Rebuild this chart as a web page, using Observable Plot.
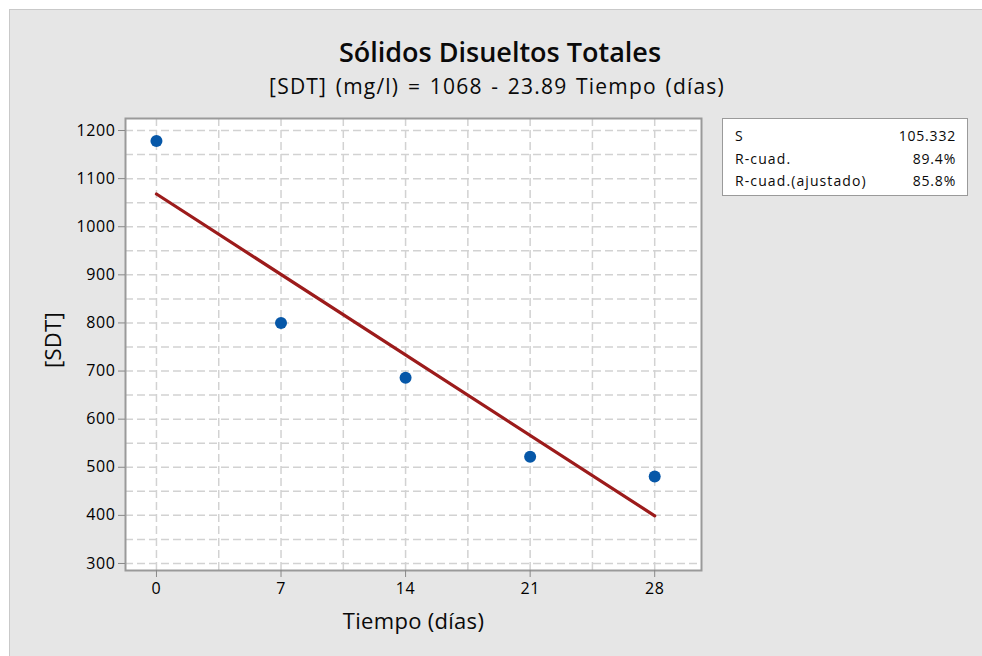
<!DOCTYPE html>
<html><head><meta charset="utf-8">
<script src="https://cdn.jsdelivr.net/npm/d3@7"></script>
<script src="https://cdn.jsdelivr.net/npm/@observablehq/plot@0.6"></script>
<style>
body{margin:0;background:#fff;font-family:"Open Sans","Noto Sans",sans-serif;}
#wrap{position:relative;width:982px;height:656px;overflow:hidden;}
#panel{position:absolute;left:9px;top:9px;width:973px;height:647px;background:#e6e6e6;border-left:1px solid #c9c9c9;border-top:1px solid #c9c9c9;}
.t{position:absolute;white-space:nowrap;line-height:1;color:#0a0a0a;}
#title{left:0;width:1000px;top:38px;text-align:center;font-size:27px;font-weight:600;}
#subtitle{left:0;width:994px;top:76px;text-align:center;font-size:21px;letter-spacing:1.2px;word-spacing:2px;}
#xlab{left:0;width:827px;top:609px;text-align:center;font-size:22px;letter-spacing:0.3px;}
#ylab{left:52px;top:340px;font-size:22px;letter-spacing:0.3px;transform:translate(-50%,-50%) rotate(-90deg);transform-origin:center;}
#plot{position:absolute;left:0;top:100px;}
#legend{position:absolute;left:722px;top:118px;width:244px;height:76px;background:#fff;border:1.5px solid #9a9a9a;font-size:14px;color:#0a0a0a;}
.row{position:absolute;left:12px;right:11px;line-height:1;letter-spacing:1.1px;white-space:nowrap;}
.row span.v{position:absolute;right:0;letter-spacing:0.8px;}
</style></head>
<body>
<div id="wrap">
<div id="panel"></div>
<div id="title" class="t">Sólidos Disueltos Totales</div>
<div id="subtitle" class="t">[SDT] (mg/l) = 1068 - 23.89 Tiempo (días)</div>
<div id="plot"></div>
<div id="xlab" class="t">Tiempo (días)</div>
<div id="ylab" class="t">[SDT]</div>
<div id="legend"></div>
</div>
<script>
const dias = [0, 7, 14, 21, 28];
const sdt = [1178, 800, 686, 522, 481];
const fitX = [0, 28];
const fitY = [1068, 399.1];
const xTicks = [0, 7, 14, 21, 28];
const yTicks = [300, 400, 500, 600, 700, 800, 900, 1000, 1100, 1200];
const xGrid = [0, 3.5, 7, 10.5, 14, 17.5, 21, 24.5, 28];
const yGrid = [300, 350, 400, 450, 500, 550, 600, 650, 700, 750, 800, 850, 900, 950, 1000, 1050, 1100, 1150, 1200];
const statLabels = ["S", "R-cuad.", "R-cuad.(ajustado)"];
const statValues = ["105.332", "89.4%", "85.8%"];

const pts = dias.map((d, i) => ({x: d, y: sdt[i]}));
const fit = fitX.map((d, i) => ({x: d, y: fitY[i]}));

const chart = Plot.plot({
  width: 720,
  height: 556,
  marginLeft: 125,
  marginRight: 19,
  marginTop: 18,
  marginBottom: 86,
  style: {background: "transparent", fontFamily: "'Open Sans','Noto Sans',sans-serif", fontSize: "16px", color: "#000"},
  x: {domain: [-1.74, 30.63]},
  y: {domain: [285.4, 1225]},
  marks: [
    Plot.frame({fill: "white", stroke: null}),
    Plot.ruleY(yGrid, {stroke: "#d2d2d2", strokeWidth: 1.5, strokeDasharray: "8,4"}),
    Plot.ruleX(xGrid, {stroke: "#d2d2d2", strokeWidth: 1.5, strokeDasharray: "8,4"}),
    Plot.frame({stroke: "#9a9a9a", strokeWidth: 2}),
    Plot.axisX({ticks: xTicks, tickSize: 7, tickPadding: 5, stroke: "#888", label: null, fontSize: 16, tickFormat: d3.format("d")}),
    Plot.axisY({ticks: yTicks, tickSize: 7, tickPadding: 3, stroke: "#888", label: null, fontSize: 16, tickFormat: d3.format("d")}),
    Plot.line(fit, {x: "x", y: "y", stroke: "#9c1b1b", strokeWidth: 3.2}),
    Plot.dot(pts, {x: "x", y: "y", r: 6, fill: "#0657a8", stroke: null})
  ]
});
document.getElementById("plot").appendChild(chart);
chart.querySelectorAll("g[aria-label='x-axis tick label'] text, g[aria-label='y-axis tick label'] text").forEach(t => { t.style.letterSpacing = "0.6px"; });

const leg = document.getElementById("legend");
statLabels.forEach((l, i) => {
  const r = document.createElement("div");
  r.className = "row";
  r.style.top = (10 + i * 22.5) + "px";
  r.innerHTML = `<span>${l}</span><span class="v">${statValues[i]}</span>`;
  leg.appendChild(r);
});
</script>
</body></html>
